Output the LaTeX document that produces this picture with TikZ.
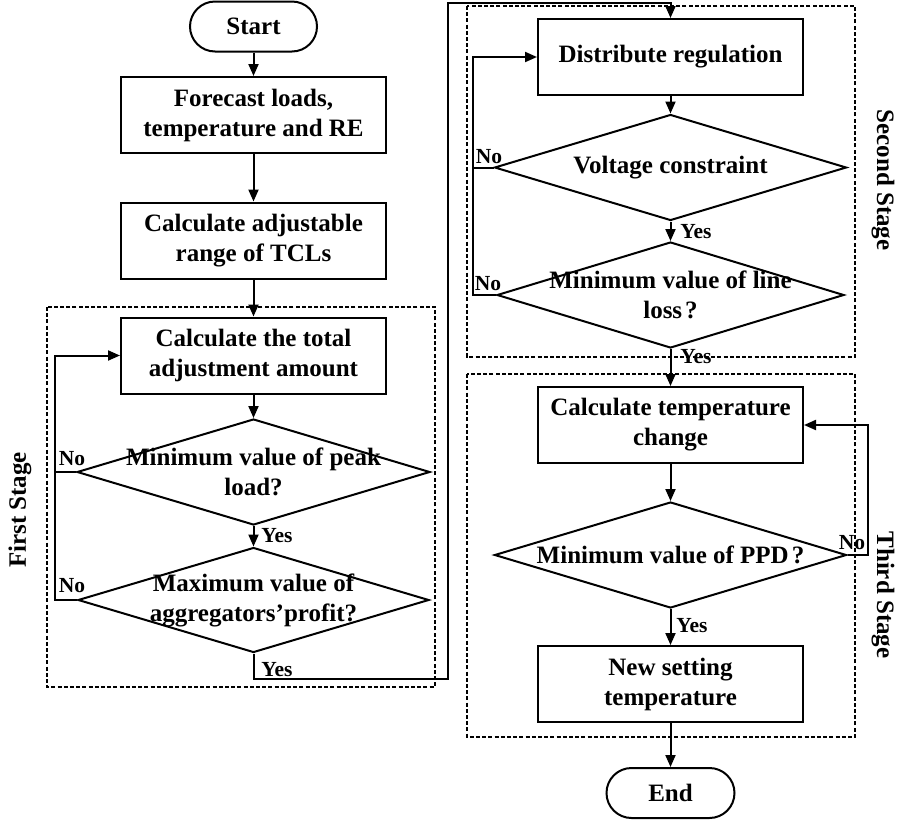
\documentclass[tikz,border=0pt]{standalone}
\usepackage{fontspec}
\setmainfont{Liberation Serif}
\usetikzlibrary{arrows.meta,shapes.geometric}
\begin{document}
\begin{tikzpicture}[x=1pt,y=-1pt,
  txt/.style={font=\bfseries\fontsize{25}{30}\selectfont,inner sep=0pt,align=center},
  box/.style={draw,line width=2pt,minimum width=265pt,minimum height=76pt,inner sep=0pt,align=center,font=\bfseries\fontsize{25}{30}\selectfont},
  term/.style={draw,line width=2pt,rounded corners=25pt,minimum width=127pt,minimum height=50pt,inner sep=0pt,font=\bfseries\fontsize{25}{30}\selectfont},
  dia/.style={draw,diamond,line width=2pt,inner sep=0pt,minimum width=352pt,minimum height=106pt},
  lbl/.style={font=\bfseries\fontsize{21.5}{25}\selectfont,inner sep=0pt},
  arr/.style={line width=2pt,-{Triangle[length=12pt,width=10pt]}},
  ln/.style={line width=2pt},
  stagebox/.style={draw,line width=2.3pt,dash pattern=on 4pt off 2.2pt},
  stagelbl/.style={font=\bfseries\fontsize{25}{30}\selectfont,inner sep=0pt}]
\useasboundingbox (0,0) rectangle (898,820);

% stage frames
\draw[stagebox] (47,307) rectangle (435,687);
\draw[stagebox] (467,6) rectangle (855,357);
\draw[stagebox] (467,374) rectangle (855,737);
\node[stagelbl,rotate=90] (s1) at (20,510) {First Stage};
\node[stagelbl,rotate=-90] (s2) at (883,180) {Second Stage};
\node[stagelbl,rotate=-90] (s3) at (883,595) {Third Stage};

% left column
\node[term] (start) at (253.5,26.5) {Start};
\node[box] (forecast) at (253.5,115) {Forecast loads,\\temperature and RE};
\node[box] (adj) at (253.5,240.5) {Calculate adjustable\\range of TCLs};
\node[box] (total) at (253.5,355.5) {Calculate the total\\adjustment amount};
\node[dia,minimum width=353pt] (d1) at (253.5,472) {};
\node[txt] (t1) at (d1.center) {Minimum value of peak\\load?};
\node[dia,minimum width=351pt,minimum height=105pt] (d2) at (253.5,600) {};
\node[txt] (t2) at (d2.center) {Maximum value of\\aggregators’profit?};

% right column
\node[box] (dist) at (670.5,57) {Distribute regulation};
\node[dia] (d3) at (670.5,167.5) {};
\node[txt] (t3) at (d3.center) {Voltage constraint};
\node[dia,minimum width=347pt] (d4) at (670.5,295) {};
\node[txt] (t4) at (d4.center) {Minimum value of line\\loss{\kern3pt}?};
\node[box] (ctemp) at (670.5,425) {Calculate temperature\\change};
\node[dia] (d5) at (670.5,555) {};
\node[txt] (t5) at (d5.center) {Minimum value of PPD{\kern3pt}?};
\node[box] (newset) at (670.5,684) {New setting\\temperature};
\node[term,minimum width=128pt] (end) at (670.5,793) {End};

% coordinates for loops
\coordinate (L1) at (55,472);
\coordinate (B1) at (253.5,679);
\coordinate (B2) at (448,679);
\coordinate (B3) at (448,3);
\coordinate (L2) at (473,167.5);
\coordinate (R3) at (868,555);

% left connectors
\draw[arr] (start) -- (forecast);
\draw[arr] (forecast) -- (adj);
\draw[arr] (adj) -- (total);
\draw[arr] (total) -- (d1.north);
\draw[arr] (d1.south) -- (d2.north);
\draw[arr] (d1.west) -- (L1) |- (total.west);
\draw[ln] (d2.west) -| (L1);
\draw[arr] (d2.south) -- (B1) -- (B2) -- (B3) -| (dist.north);

% right connectors
\draw[arr] (dist) -- (d3.north);
\draw[arr] (d3.south) -- (d4.north);
\draw[arr] (d3.west) -- (L2) |- (dist.west);
\draw[ln] (d4.west) -| (L2);
\draw[arr] (d4.south) -- (ctemp.north);
\draw[arr] (ctemp) -- (d5.north);
\draw[arr] (d5.east) -- (R3) |- (ctemp.east);
\draw[arr] (d5.south) -- (newset.north);
\draw[arr] (newset) -- (end);

% labels
\node[lbl] (no1) at (72,459) {No};
\node[lbl] (no2) at (72,586) {No};
\node[lbl] (yes1) at (277,536) {Yes};
\node[lbl] (yes2) at (277,670) {Yes};
\node[lbl] (no3) at (489,157) {No};
\node[lbl] (no4) at (488,284) {No};
\node[lbl] (yes3) at (696,232) {Yes};
\node[lbl] (yes4) at (696,357) {Yes};
\node[lbl] (no5) at (852,543) {No};
\node[lbl] (yes5) at (692,626) {Yes};
\end{tikzpicture}
\end{document}
